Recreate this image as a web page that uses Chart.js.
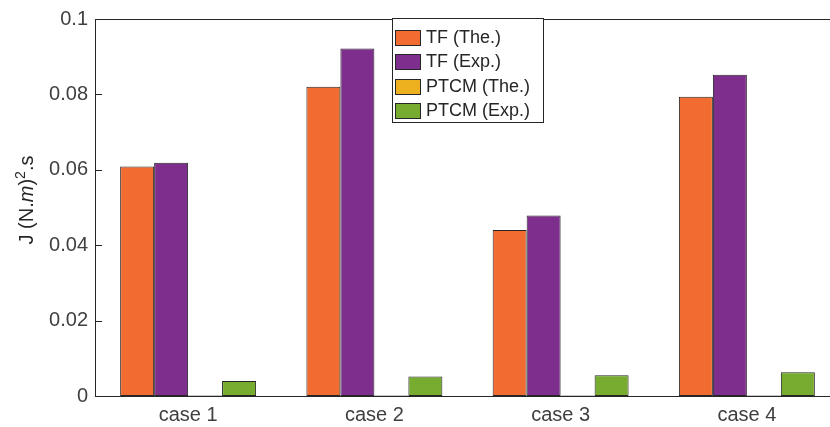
<!DOCTYPE html>
<html>
<head>
<meta charset="utf-8">
<script src="https://cdn.jsdelivr.net/npm/chart.js@4/dist/chart.umd.min.js"></script>
<style>
  html, body { margin: 0; padding: 0; background: #fff; overflow: hidden; }
  #barChart { position: absolute; left: 0; top: 0; }
</style>
</head>
<body>
<canvas id="barChart" width="845" height="427"></canvas>
<script>
const cases = ['case 1', 'case 2', 'case 3', 'case 4'];
const tfTheory = [0.0609, 0.0820, 0.0440, 0.0794];
const tfExp = [0.0619, 0.0922, 0.0479, 0.0852];
const ptcmTheory = [0.0001, 0.0001, 0.0001, 0.0001];
const ptcmExp = [0.0040, 0.0052, 0.0055, 0.0063];
const yTickLabels = ['0', '0.02', '0.04', '0.06', '0.08', '0.1'];

const seriesLabels = ['TF (The.)', 'TF (Exp.)', 'PTCM (The.)', 'PTCM (Exp.)'];
const seriesColors = ['#F26B31', '#7E2F8E', '#EDB120', '#77AC30'];
const edgeColor = '#262626';
const textColor = '#404040';

// box around the axes plus inward y tick marks
const axesBox = {
    id: 'axesBox',
    afterDatasetsDraw(chart) {
        const { ctx, chartArea: a, scales } = chart;
        ctx.save();
        ctx.strokeStyle = edgeColor;
        ctx.lineWidth = 1;
        ctx.beginPath();
        ctx.moveTo(a.left, a.top + 0.5);
        ctx.lineTo(a.right, a.top + 0.5);
        ctx.moveTo(a.right - 0.5, a.top);
        ctx.lineTo(a.right - 0.5, a.bottom);
        scales.y.ticks.forEach(t => {
            const py = Math.round(scales.y.getPixelForValue(t.value)) + 0.5;
            ctx.moveTo(a.left, py);
            ctx.lineTo(a.left + 7, py);
        });
        ctx.stroke();
        ctx.restore();
    }
};

// y title with italic m and superscript 2
const yTitle = {
    id: 'yTitle',
    afterDraw(chart) {
        const { ctx } = chart;
        const parts = [
            { t: 'J (N.', f: '20px "Liberation Sans"', dy: 0 },
            { t: 'm', f: 'italic 20px "Liberation Sans"', dy: 0 },
            { t: ')', f: '20px "Liberation Sans"', dy: 0 },
            { t: '2', f: '14px "Liberation Sans"', dy: -8 },
            { t: '.s', f: '20px "Liberation Sans"', dy: 0 }
        ];
        ctx.save();
        let total = 0;
        parts.forEach(p => { ctx.font = p.f; p.w = ctx.measureText(p.t).width; total += p.w; });
        ctx.translate(33, 200);
        ctx.rotate(-Math.PI / 2);
        ctx.fillStyle = '#262626';
        ctx.textBaseline = 'alphabetic';
        let x = -total / 2;
        parts.forEach(p => {
            ctx.font = p.f;
            ctx.fillText(p.t, x, p.dy);
            x += p.w;
        });
        ctx.restore();
    }
};

// legend box in the upper middle of the axes
const boxLegend = {
    id: 'boxLegend',
    afterDraw(chart) {
        const { ctx } = chart;
        const x0 = 392, y0 = 18, w = 151, h = 104;
        ctx.save();
        ctx.fillStyle = '#fff';
        ctx.fillRect(x0, y0, w, h);
        ctx.strokeStyle = edgeColor;
        ctx.lineWidth = 1;
        ctx.strokeRect(x0 + 0.5, y0 + 0.5, w, h);
        ctx.font = '18px "Liberation Sans"';
        ctx.textBaseline = 'middle';
        seriesLabels.forEach((label, i) => {
            const cy = 37 + i * 24.5;
            ctx.fillStyle = seriesColors[i];
            ctx.fillRect(395, Math.round(cy - 7.5), 25, 15);
            ctx.strokeRect(395.5, Math.round(cy - 7.5) + 0.5, 25, 15);
            ctx.fillStyle = '#262626';
            ctx.fillText(label, 426, cy + 1);
        });
        ctx.restore();
    }
};

const datasets = [tfTheory, tfExp, ptcmTheory, ptcmExp].map((vals, i) => ({
    label: seriesLabels[i],
    data: vals,
    backgroundColor: seriesColors[i],
    borderColor: edgeColor,
    borderWidth: 1,
    borderSkipped: false,
    barPercentage: 1,
    categoryPercentage: 0.73
}));

new Chart(document.getElementById('barChart').getContext('2d'), {
    type: 'bar',
    data: { labels: cases, datasets: datasets },
    options: {
        responsive: false,
        animation: false,
        layout: { padding: { top: 13, right: 5, left: 0, bottom: 0 } },
        plugins: {
            legend: { display: false },
            tooltip: { enabled: false }
        },
        scales: {
            x: {
                grid: { display: false, drawTicks: false },
                border: { display: true, color: edgeColor, width: 1 },
                ticks: {
                    color: textColor,
                    font: { family: 'Liberation Sans', size: 20 },
                    padding: 7
                },
                afterFit(scale) { scale.height = 31; }
            },
            y: {
                min: 0,
                max: 0.1,
                grid: { display: false, drawTicks: false },
                border: { display: true, color: edgeColor, width: 1 },
                ticks: {
                    stepSize: 0.02,
                    color: textColor,
                    font: { family: 'Liberation Sans', size: 20 },
                    padding: 7,
                    callback: (v, i) => yTickLabels[i]
                },
                afterFit(scale) { scale.width = 95; }
            }
        }
    },
    plugins: [axesBox, yTitle, boxLegend]
});
</script>
</body>
</html>
